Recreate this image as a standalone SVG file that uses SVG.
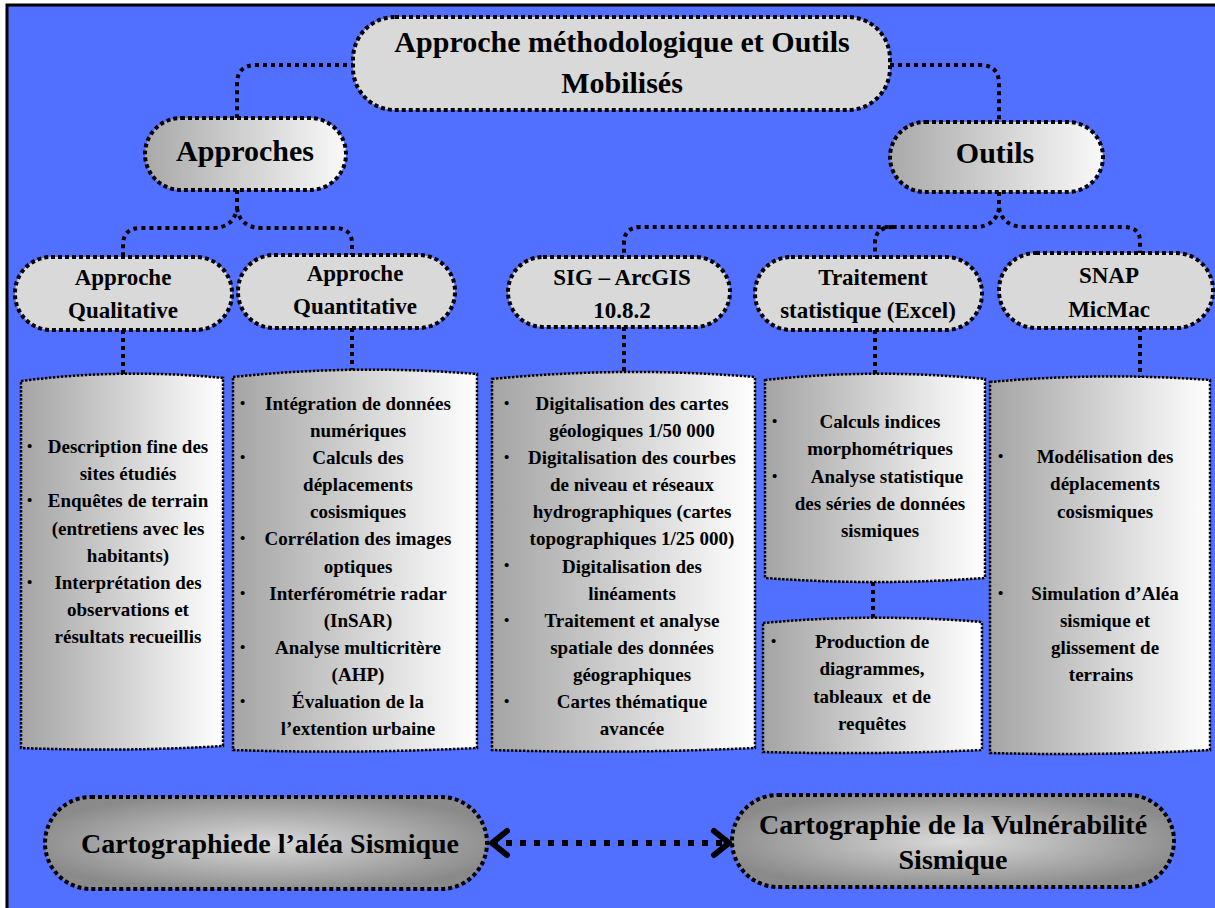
<svg xmlns="http://www.w3.org/2000/svg" width="1215" height="908" viewBox="0 0 1215 908">
<style>
text{font-family:"Liberation Serif","Times New Roman",serif;font-weight:bold;fill:#000;text-anchor:middle}
.t30{font-size:30px}
.t23{font-size:23px}
.t19{font-size:19px}
.t28{font-size:28px}
.bul{font-size:15px;text-anchor:start}
.pill{stroke:#000;stroke-width:4;stroke-dasharray:4 3}
.flat{fill:#d9d9d9}
.box{stroke:#000;stroke-width:2.5;stroke-dasharray:2.5 1.5;fill:url(#gBox)}
.conn{fill:none;stroke:#000;stroke-width:4;stroke-dasharray:4 4}
</style>
<defs>
<linearGradient id="gMid" x1="0" y1="0" x2="1" y2="0">
<stop offset="0" stop-color="#a9a9a9"/><stop offset="1" stop-color="#f9f9f9"/>
</linearGradient>
<linearGradient id="gBox" x1="0" y1="0" x2="1" y2="0">
<stop offset="0" stop-color="#a4a4a4"/><stop offset="1" stop-color="#ffffff"/>
</linearGradient>
<radialGradient id="gBot" cx="0.5" cy="0.5" r="0.55">
<stop offset="0" stop-color="#dadada"/><stop offset="1" stop-color="#8a8a8a"/>
</radialGradient>
<marker id="chev" viewBox="0 0 22 32" refX="19" refY="16" markerWidth="22" markerHeight="32" markerUnits="userSpaceOnUse" orient="auto-start-reverse">
<path d="M4,4 L19,16 L4,28" fill="none" stroke="#000" stroke-width="6" stroke-linecap="round" stroke-linejoin="round" stroke-dasharray="none"/>
</marker>
</defs>
<rect x="0" y="0" width="1215" height="908" fill="#ffffff"/>
<rect x="7" y="5" width="1220" height="915" fill="#5170ff" stroke="#000" stroke-width="3"/>

<g id="connectors">
<path class="conn" d="M355,65 L256,65 Q237,65 237,84 L237,118"/>
<path class="conn" d="M890,65 L980,65 Q999,65 999,84 L999,122"/>
<path class="conn" d="M237,190 L237,208 Q234,228 212,228 L141,228 Q123,228 123,245 L123,257"/>
<path class="conn" d="M237,208 Q240,228 262,228 L334,228 Q352,228 352,243 L352,255"/>
<path class="conn" d="M999,192 L999,208 Q996,227 974,227 L641,227 Q624,227 624,243 L624,257"/>
<path class="conn" d="M893,227 Q875,227 875,243 L875,257"/>
<path class="conn" d="M999,208 Q1003,227 1025,227 L1123,227 Q1140,227 1140,241 L1140,253"/>
<path class="conn" d="M123,330 L123,376"/>
<path class="conn" d="M352,328 L352,372"/>
<path class="conn" d="M624,327 L624,374"/>
<path class="conn" d="M875,330 L875,376"/>
<path class="conn" d="M1140,328 L1140,379"/>
<path class="conn" d="M873,582 L873,620"/>
<path d="M492,843 L729,843" fill="none" stroke="#000" stroke-width="6" stroke-dasharray="6 8" marker-start="url(#chev)" marker-end="url(#chev)"/>
</g>

<g id="n-top">
<rect class="pill flat" x="353" y="17" width="537" height="93" rx="42"/>
<text class="t30" x="622" y="52">Approche méthodologique et Outils</text>
<text class="t30" x="622" y="93">Mobilisés</text>
</g>

<g id="n-approches">
<rect class="pill" fill="url(#gMid)" x="145" y="118" width="201" height="72" rx="36"/>
<text class="t30" x="245" y="161">Approches</text>
</g>

<g id="n-outils">
<rect class="pill" fill="url(#gMid)" x="890" y="122" width="213" height="70" rx="35"/>
<text class="t30" x="995" y="163">Outils</text>
</g>

<g id="n-qual">
<rect class="pill flat" x="15" y="257" width="217" height="73" rx="36"/>
<text class="t23" x="123" y="285">Approche</text>
<text class="t23" x="123" y="318">Qualitative</text>
</g>

<g id="n-quant">
<rect class="pill flat" x="238" y="255" width="217" height="73" rx="36"/>
<text class="t23" x="355" y="281">Approche</text>
<text class="t23" x="355" y="314">Quantitative</text>
</g>

<g id="n-sig">
<rect class="pill flat" x="508" y="257" width="222" height="70" rx="35"/>
<text class="t23" x="622" y="285">SIG – ArcGIS</text>
<text class="t23" x="622" y="318">10.8.2</text>
</g>

<g id="n-trait">
<rect class="pill flat" x="755" y="257" width="227" height="73" rx="36"/>
<text class="t23" x="873" y="285">Traitement</text>
<text class="t23" x="868" y="318">statistique (Excel)</text>
</g>

<g id="n-snap">
<rect class="pill flat" x="999" y="253" width="214" height="75" rx="37"/>
<text class="t23" x="1109" y="283">SNAP</text>
<text class="t23" x="1109" y="317">MicMac</text>
</g>

<g id="b-qual">
<path class="box" d="M21,381 Q122,368 223,378 L223,746 Q122,752 21,748 Z"/>
<text class="bul" x="27" y="451">•</text>
<text class="bul" x="27" y="505">•</text>
<text class="bul" x="27" y="587">•</text>
<text class="t19" x="128" y="453">Description fine des</text>
<text class="t19" x="128" y="480">sites étudiés</text>
<text class="t19" x="128" y="507">Enquêtes de terrain</text>
<text class="t19" x="128" y="535">(entretiens avec les</text>
<text class="t19" x="128" y="562">habitants)</text>
<text class="t19" x="128" y="589">Interprétation des</text>
<text class="t19" x="128" y="616">observations et</text>
<text class="t19" x="128" y="643">résultats recueillis</text>
</g>

<g id="b-quant">
<path class="box" d="M233,377 Q355,364 477,374 L477,748 Q355,754 233,750 Z"/>
<text class="bul" x="240" y="408">•</text>
<text class="bul" x="240" y="462">•</text>
<text class="bul" x="240" y="543">•</text>
<text class="bul" x="240" y="598">•</text>
<text class="bul" x="240" y="652">•</text>
<text class="bul" x="240" y="706">•</text>
<text class="t19" x="358" y="410">Intégration de données</text>
<text class="t19" x="358" y="437">numériques</text>
<text class="t19" x="358" y="464">Calculs des</text>
<text class="t19" x="358" y="491">déplacements</text>
<text class="t19" x="358" y="518">cosismiques</text>
<text class="t19" x="358" y="545">Corrélation des images</text>
<text class="t19" x="358" y="573">optiques</text>
<text class="t19" x="358" y="600">Interférométrie radar</text>
<text class="t19" x="358" y="627">(InSAR)</text>
<text class="t19" x="358" y="654">Analyse multicritère</text>
<text class="t19" x="358" y="681">(AHP)</text>
<text class="t19" x="358" y="708">Évaluation de la</text>
<text class="t19" x="358" y="735">l’extention urbaine</text>
</g>

<g id="b-sig">
<path class="box" d="M492,379 Q623,366 755,377 L755,748 Q623,754 492,750 Z"/>
<text class="bul" x="504" y="408">•</text>
<text class="bul" x="504" y="462">•</text>
<text class="bul" x="504" y="570">•</text>
<text class="bul" x="504" y="625">•</text>
<text class="bul" x="504" y="706">•</text>
<text class="t19" x="632" y="410">Digitalisation des cartes</text>
<text class="t19" x="632" y="437">géologiques 1/50 000</text>
<text class="t19" x="632" y="464">Digitalisation des courbes</text>
<text class="t19" x="632" y="491">de niveau et réseaux</text>
<text class="t19" x="632" y="518">hydrographiques (cartes</text>
<text class="t19" x="632" y="545">topographiques 1/25 000)</text>
<text class="t19" x="632" y="573">Digitalisation des</text>
<text class="t19" x="632" y="600">linéaments</text>
<text class="t19" x="632" y="627">Traitement et analyse</text>
<text class="t19" x="632" y="654">spatiale des données</text>
<text class="t19" x="632" y="681">géographiques</text>
<text class="t19" x="632" y="708">Cartes thématique</text>
<text class="t19" x="632" y="735">avancée</text>
</g>

<g id="b-trait">
<path class="box" d="M765,380 Q875,368 985,379 L985,578 Q875,586 765,578 Z"/>
<text class="bul" x="772" y="426">•</text>
<text class="bul" x="772" y="481">•</text>
<text class="t19" x="880" y="428">Calculs indices</text>
<text class="t19" x="880" y="455">morphométriques</text>
<text class="t19" x="887" y="483">Analyse statistique</text>
<text class="t19" x="880" y="510">des séries de données</text>
<text class="t19" x="880" y="537">sismiques</text>
</g>

<g id="b-prod">
<path class="box" d="M763,623 Q872,613 982,622 L982,750 Q872,755 763,752 Z"/>
<text class="bul" x="771" y="646">•</text>
<text class="t19" x="872" y="648">Production de</text>
<text class="t19" x="872" y="675">diagrammes,</text>
<text class="t19" x="872" y="703">tableaux&#160; et de</text>
<text class="t19" x="872" y="730">requêtes</text>
</g>

<g id="b-snap">
<path class="box" d="M990,382 Q1100,372 1210,380 L1210,750 Q1100,756 990,753 Z"/>
<text class="bul" x="998" y="461">•</text>
<text class="bul" x="998" y="598">•</text>
<text class="t19" x="1105" y="463">Modélisation des</text>
<text class="t19" x="1105" y="490">déplacements</text>
<text class="t19" x="1105" y="518">cosismiques</text>
<text class="t19" x="1105" y="600">Simulation d’Aléa</text>
<text class="t19" x="1105" y="627">sismique et</text>
<text class="t19" x="1105" y="654">glissement de</text>
<text class="t19" x="1101" y="681">terrains</text>
</g>

<g id="n-alea">
<rect class="pill" fill="url(#gBot)" x="45" y="797" width="442" height="92" rx="46"/>
<text class="t28" x="270" y="853">Cartographiede l’aléa Sismique</text>
</g>

<g id="n-vuln">
<rect class="pill" fill="url(#gBot)" x="732" y="795" width="442" height="92" rx="46"/>
<text class="t28" x="953" y="834">Cartographie de la Vulnérabilité</text>
<text class="t28" x="953" y="869">Sismique</text>
</g>
</svg>
